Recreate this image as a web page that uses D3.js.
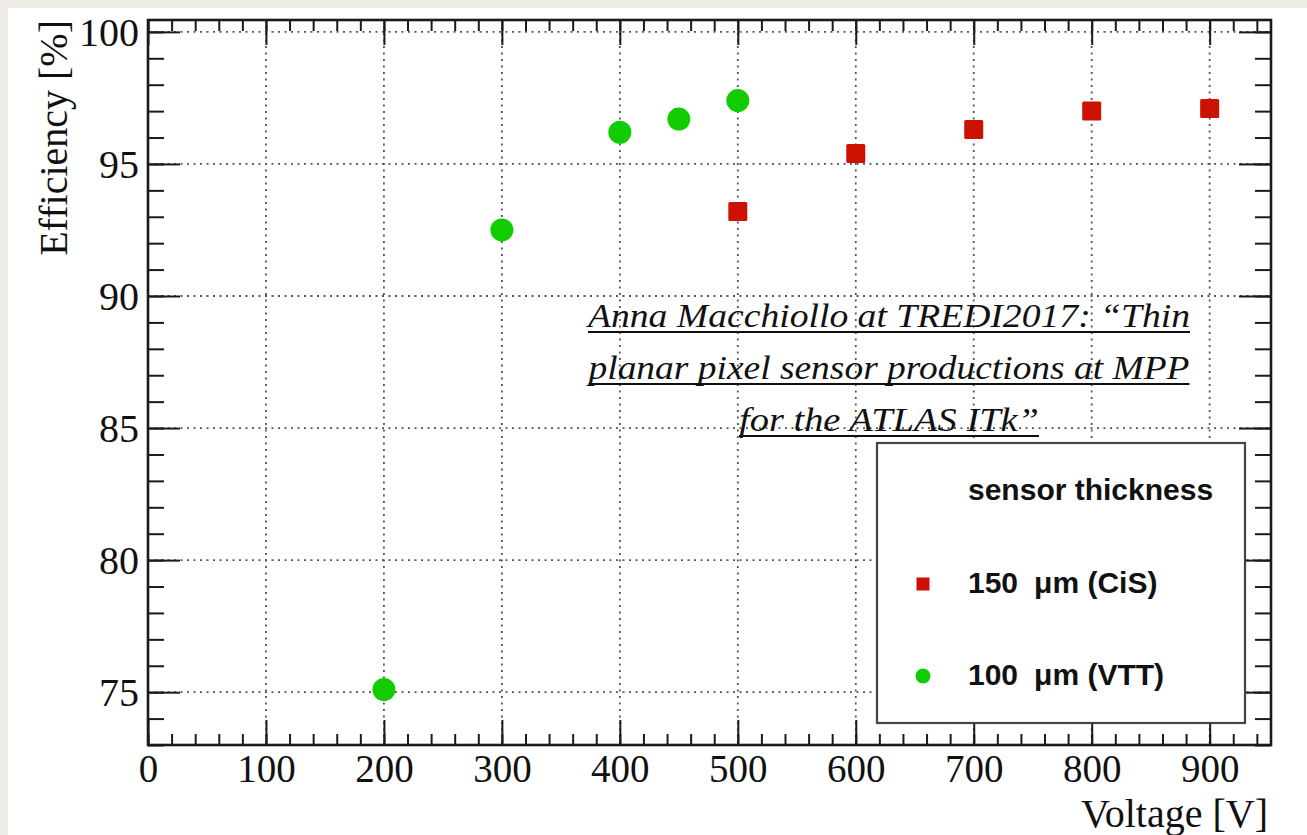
<!DOCTYPE html>
<html>
<head>
<meta charset="utf-8">
<script src="https://cdn.jsdelivr.net/npm/d3@7"></script>
<style>
  html, body { margin: 0; padding: 0; background: #eeebe6; }
  svg { display: block; }
</style>
</head>
<body>
<svg id="chart" width="1307" height="835"></svg>
<script>
// Efficiency vs. bias voltage for two sensor thicknesses
const voltsCiS = [500, 600, 700, 800, 900];
const effCiS   = [93.2, 95.4, 96.3, 97.0, 97.1];
const voltsVTT = [200, 300, 400, 450, 500];
const effVTT   = [75.1, 92.5, 96.2, 96.7, 97.4];

const xTickValues = [0, 100, 200, 300, 400, 500, 600, 700, 800, 900];
const yTickValues = [75, 80, 85, 90, 95, 100];

const legendTitle = "sensor thickness";
const legendLabels = [["150", "\u03bcm (CiS)"], ["100", "\u03bcm (VTT)"]];
const noteLines = [
  "Anna Macchiollo at TREDI2017: \u201cThin",
  "planar pixel sensor productions at MPP",
  "for the ATLAS ITk\u201d"
];

const W = 1307, H = 835;
const frame = { left: 148, right: 1271, top: 20, bottom: 745 };
const serif = "'Liberation Serif', 'Times New Roman', serif";
const sans = "'Liberation Sans', Arial, sans-serif";

const svg = d3.select("#chart");

// page + white slide panel
svg.append("rect").attr("width", W).attr("height", H).attr("fill", "#eeebe6");
svg.append("rect").attr("x", 8).attr("y", 8).attr("width", W - 8).attr("height", H - 8).attr("fill", "#ffffff");

const x = d3.scaleLinear().domain([0, 952]).range([frame.left, frame.right]);
const y = d3.scaleLinear().domain([73, 100.45]).range([frame.bottom, frame.top]);

const xMinor = d3.range(0, 952, 20);
const yMinor = d3.range(73, 100.5, 1);

// dotted grid at major ticks
const grid = svg.append("g").attr("stroke", "#555").attr("stroke-width", 1.8)
  .attr("stroke-dasharray", "2,4.5");
grid.selectAll("line.gx").data(xTickValues.filter(v => v > 0)).join("line")
  .attr("x1", d => x(d)).attr("x2", d => x(d))
  .attr("y1", frame.top).attr("y2", frame.bottom);
grid.selectAll("line.gy").data(yTickValues).join("line")
  .attr("y1", d => y(d)).attr("y2", d => y(d))
  .attr("x1", frame.left).attr("x2", frame.right);

// axes: ticks drawn inward on all four sides
function styleAxis(g) {
  g.select(".domain").remove();
  g.selectAll(".tick line").attr("stroke", "#1a1a1a").attr("stroke-width", 2);
}
const bottomMajor = svg.append("g").attr("transform", `translate(0,${frame.bottom})`)
  .call(d3.axisBottom(x).tickValues(xTickValues).tickSize(-25).tickSizeOuter(0).tickPadding(9).tickFormat(d3.format("d")));
styleAxis(bottomMajor);
bottomMajor.selectAll("text").attr("font-family", serif).attr("font-size", 39).attr("fill", "#111").attr("dy", "0.71em");
svg.append("g").attr("transform", `translate(0,${frame.bottom})`)
  .call(d3.axisBottom(x).tickValues(xMinor).tickSize(-11).tickFormat("")).call(styleAxis);

svg.append("g").attr("transform", `translate(0,${frame.top})`)
  .call(d3.axisTop(x).tickValues(xTickValues).tickSize(-25).tickFormat("")).call(styleAxis);
svg.append("g").attr("transform", `translate(0,${frame.top})`)
  .call(d3.axisTop(x).tickValues(xMinor).tickSize(-11).tickFormat("")).call(styleAxis);

const leftMajor = svg.append("g").attr("transform", `translate(${frame.left},0)`)
  .call(d3.axisLeft(y).tickValues(yTickValues).tickSize(-32).tickSizeOuter(0).tickPadding(9).tickFormat(d3.format("d")));
styleAxis(leftMajor);
leftMajor.selectAll("text").attr("font-family", serif).attr("font-size", 40).attr("fill", "#111").attr("dy", "0.34em");
svg.append("g").attr("transform", `translate(${frame.left},0)`)
  .call(d3.axisLeft(y).tickValues(yMinor).tickSize(-16).tickFormat("")).call(styleAxis);

svg.append("g").attr("transform", `translate(${frame.right},0)`)
  .call(d3.axisRight(y).tickValues(yTickValues).tickSize(-32).tickFormat("")).call(styleAxis);
svg.append("g").attr("transform", `translate(${frame.right},0)`)
  .call(d3.axisRight(y).tickValues(yMinor).tickSize(-16).tickFormat("")).call(styleAxis);

// frame
svg.append("rect")
  .attr("x", frame.left).attr("y", frame.top)
  .attr("width", frame.right - frame.left).attr("height", frame.bottom - frame.top)
  .attr("fill", "none").attr("stroke", "#1a1a1a").attr("stroke-width", 2.6);

// axis titles
svg.append("text")
  .attr("transform", `translate(67,${frame.top}) rotate(-90)`)
  .attr("text-anchor", "end")
  .attr("font-family", serif).attr("font-size", 40).attr("fill", "#111")
  .text("Efficiency [%]");
svg.append("text")
  .attr("x", frame.right - 3).attr("y", 827)
  .attr("text-anchor", "end")
  .attr("font-family", serif).attr("font-size", 40).attr("fill", "#111")
  .text("Voltage [V]");

// citation note
const noteX = 889, noteY0 = 327, noteStep = 52;
const noteWidths = [602, 601, 300];
const note = svg.append("g");
noteLines.forEach((line, i) => {
  const by = noteY0 + i * noteStep;
  note.append("text")
    .attr("x", noteX).attr("y", by)
    .attr("text-anchor", "middle")
    .attr("font-family", serif).attr("font-style", "italic").attr("font-size", 33)
    .attr("fill", "#111")
    .attr("textLength", noteWidths[i]).attr("lengthAdjust", "spacingAndGlyphs")
    .text(line);
  note.append("line")
    .attr("x1", noteX - noteWidths[i] / 2).attr("x2", noteX + noteWidths[i] / 2)
    .attr("y1", by + 5).attr("y2", by + 5)
    .attr("stroke", "#111").attr("stroke-width", 2);
});

// data points
svg.append("g").selectAll("rect").data(voltsCiS.map((v, i) => [v, effCiS[i]])).join("rect")
  .attr("x", d => x(d[0]) - 9.5).attr("y", d => y(d[1]) - 9.5)
  .attr("width", 19).attr("height", 19).attr("rx", 1.5)
  .attr("fill", "#cc1100");
svg.append("g").selectAll("circle").data(voltsVTT.map((v, i) => [v, effVTT[i]])).join("circle")
  .attr("cx", d => x(d[0])).attr("cy", d => y(d[1])).attr("r", 11.5)
  .attr("fill", "#11cc00");

// legend
const lg = svg.append("g");
lg.append("rect").attr("x", 877).attr("y", 443).attr("width", 368).attr("height", 280)
  .attr("fill", "#ffffff").attr("stroke", "#444").attr("stroke-width", 2.2);
lg.append("text").attr("x", 968).attr("y", 500)
  .attr("font-family", sans).attr("font-weight", "bold").attr("font-size", 30).attr("fill", "#111")
  .text(legendTitle);
const rowsY = [593, 685];
lg.append("rect").attr("x", 923 - 6.5).attr("y", 584 - 6.5).attr("width", 13).attr("height", 13).attr("fill", "#cc1100");
lg.append("circle").attr("cx", 923).attr("cy", 676).attr("r", 7.5).attr("fill", "#11cc00");
legendLabels.forEach((lab, i) => {
  const t = lg.append("text").attr("x", 968).attr("y", rowsY[i])
    .attr("font-family", sans).attr("font-weight", "bold").attr("font-size", 30).attr("fill", "#111");
  t.append("tspan").text(lab[0]);
  t.append("tspan").attr("dx", 16).text(lab[1]);
});
</script>
</body>
</html>
